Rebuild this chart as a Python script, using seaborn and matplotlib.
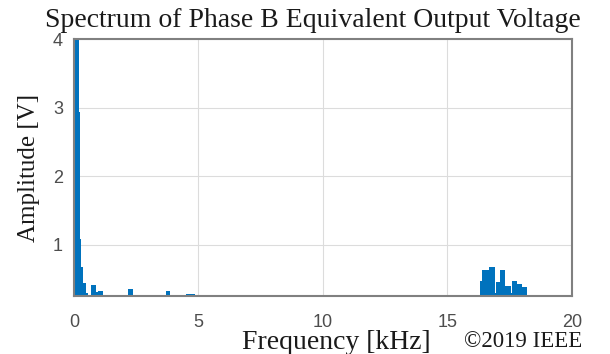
import numpy as np
import pandas as pd
import matplotlib
matplotlib.use("Agg")
import matplotlib.pyplot as plt
import seaborn as sns

# spectrum bins (kHz) and amplitudes (V)
freq_khz = [0.025, 0.075, 0.125, 0.175, 0.225, 0.275, 0.325, 0.375, 0.425, 0.475, 0.525,
            0.725, 0.775, 0.825, 0.875, 0.925, 0.975, 1.025, 1.075, 1.125,
            1.525, 1.575, 1.625, 1.675, 2.025, 2.075, 2.125, 2.175, 2.225, 2.275, 2.325,
            3.725, 3.775, 3.825, 4.525, 4.575, 4.625, 4.675, 4.725, 4.775, 4.825,
            16.325, 16.375, 16.425, 16.475, 16.525, 16.575, 16.625,
            16.675, 16.725, 16.775, 16.825, 16.875, 16.925,
            16.975, 17.025, 17.075, 17.125, 17.175, 17.225, 17.275,
            17.325, 17.375, 17.425, 17.475, 17.525, 17.575,
            17.625, 17.675, 17.725, 17.775, 17.825, 17.875, 17.925, 17.975,
            18.025, 18.075, 18.125, 18.175]
amp_v = [4.6, 4.6, 4.6, 4.6, 2.94, 1.09, 0.68, 0.45, 0.45, 0.45, 0.30,
         0.42, 0.42, 0.42, 0.42, 0.32, 0.33, 0.33, 0.33, 0.33,
         0.27, 0.27, 0.27, 0.27, 0.27, 0.27, 0.27, 0.35, 0.35, 0.35, 0.35,
         0.33, 0.33, 0.33, 0.29, 0.29, 0.29, 0.29, 0.29, 0.28, 0.28,
         0.48, 0.48, 0.63, 0.63, 0.63, 0.63, 0.63,
         0.675, 0.675, 0.675, 0.675, 0.675, 0.30,
         0.46, 0.46, 0.46, 0.63, 0.63, 0.63, 0.63,
         0.40, 0.40, 0.40, 0.40, 0.40, 0.30,
         0.47, 0.47, 0.47, 0.47, 0.43, 0.43, 0.43, 0.43,
         0.38, 0.38, 0.38, 0.38]

x_ticks = [0, 5, 10, 15, 20]
y_ticks = [1, 2, 3, 4]

df = pd.DataFrame({"freq": freq_khz, "amp": amp_v})

sns.set_style("whitegrid")
plt.rcParams["font.family"] = ["Liberation Sans", "DejaVu Sans"]

fig = plt.figure(figsize=(6.1, 3.54), dpi=100)
ax = fig.add_axes([0.1213, 0.1638, 0.8164, 0.726])

sns.histplot(data=df, x="freq", weights="amp", binwidth=0.05, binrange=(0, 20),
             color="#0072BD", alpha=1, linewidth=0, ax=ax)

ax.set_xlim(0, 20)
ax.set_ylim(0.255, 4)
ax.set_xticks(x_ticks)
ax.set_yticks(y_ticks)
ax.tick_params(direction="in", length=3, colors="#4d4d4d", labelsize=13,
               labelcolor="#4d4d4d")
ax.tick_params(axis="x", pad=13)
ax.tick_params(axis="y", pad=8)
ax.grid(True, color="#dcdcdc", linewidth=0.8)
for s in ax.spines.values():
    s.set_visible(True)
    s.set_color("#808080")
    s.set_linewidth(1.5)

serif = ["Liberation Serif", "DejaVu Serif"]
ax.set_title("Spectrum of Phase B Equivalent Output Voltage", family=serif, fontsize=20,
             color="#1a1a1a", pad=9, x=0.479)
ax.set_ylabel("Amplitude [V]", family=serif, fontsize=18, color="#1a1a1a", labelpad=9)
ax.set_xlabel("")
fig.text(0.552, -0.004, "Frequency [kHz]", family=serif, fontsize=20, color="#1a1a1a",
         ha="center", va="bottom")
fig.text(0.955, 0.006, "©2019 IEEE", family=serif, fontsize=16.5, color="#1a1a1a",
         ha="right", va="bottom")

fig.savefig("out.png", dpi=100)
